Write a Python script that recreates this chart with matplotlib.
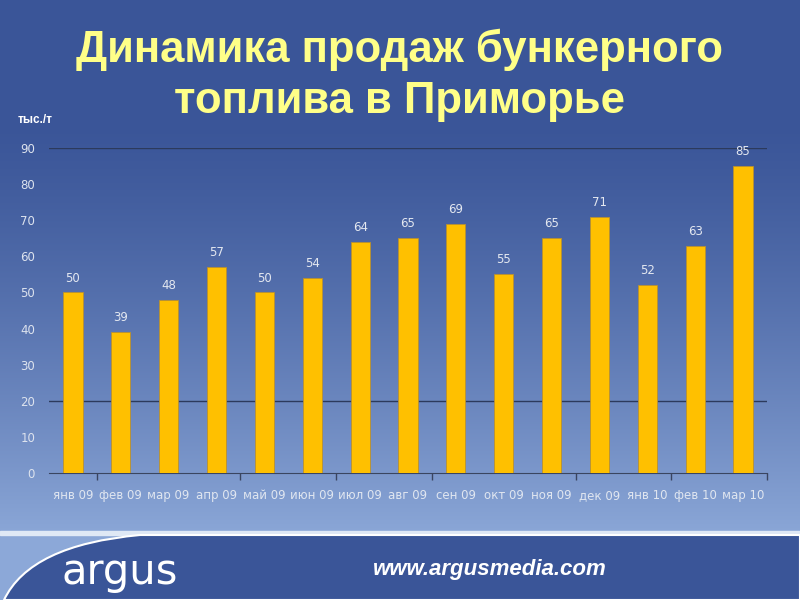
import numpy as np
import matplotlib
matplotlib.use('Agg')
import matplotlib.pyplot as plt
from matplotlib.path import Path
from matplotlib.patches import PathPatch, Rectangle
from matplotlib.transforms import blended_transform_factory

# data
months = ['янв 09', 'фев 09', 'мар 09', 'апр 09', 'май 09', 'июн 09', 'июл 09', 'авг 09',
          'сен 09', 'окт 09', 'ноя 09', 'дек 09', 'янв 10', 'фев 10', 'мар 10']
sales = [50, 39, 48, 57, 50, 54, 64, 65, 69, 55, 65, 71, 52, 63, 85]
yticks = [0, 10, 20, 30, 40, 50, 60, 70, 80, 90]
tick_bounds = [1, 4, 6, 8, 11, 13, 15]   # category boundaries carrying a tick mark

W, H = 800, 600
fig = plt.figure(figsize=(8, 6), dpi=100)

# background gradient
bg = fig.add_axes([0, 0, 1, 1])
bg.set_axis_off()
top = np.array([0x3a, 0x55, 0x98]) / 255
bot = np.array([0x8c, 0xa8, 0xd8]) / 255
t = np.linspace(0, 1, 600)
t = np.clip((t - 0.2) / 0.7, 0, 1) ** 1.3
grad = top[None, :] * (1 - t[:, None]) + bot[None, :] * t[:, None]
bg.imshow(grad[:, None, :], aspect='auto', extent=[0, W, H, 0])
bg.set_xlim(0, W)
bg.set_ylim(H, 0)

# footer band
bg.add_patch(Rectangle((0, 531), W, 4, color='#dfe8f5', zorder=2))
verts = [(4, 600), (30, 545), (140, 535), (W, 535), (W, 600), (4, 600)]
codes = [Path.MOVETO, Path.CURVE3, Path.CURVE3, Path.LINETO, Path.LINETO, Path.CLOSEPOLY]
bg.add_patch(PathPatch(Path(verts, codes), facecolor='#3a5598', edgecolor='white', lw=1.5, zorder=3))
bg.text(62, 572, 'argus', color='white', fontsize=30, family='DejaVu Sans',
        va='center', ha='left', zorder=4)
bg.text(490, 569, 'www.argusmedia.com', color='white', fontsize=16, fontweight='bold',
        style='italic', family='Liberation Sans', va='center', ha='center', zorder=4)

# title
bg.text(400, 50, 'Динамика продаж бункерного', color='#ffff88', fontsize=31.5,
        fontweight='bold', family='Liberation Sans', ha='center', va='center')
bg.text(400, 101, 'топлива в Приморье', color='#ffff88', fontsize=31.5,
        fontweight='bold', family='Liberation Sans', ha='center', va='center')
bg.text(18, 120, 'тыс./т', color='white', fontsize=8.5, fontweight='bold',
        family='Liberation Sans', ha='left', va='center')

# chart
ax = fig.add_axes([49 / W, 1 - 473 / H, (767 - 49) / W, (473 - 148) / H])
ax.patch.set_alpha(0)
x = np.arange(len(sales))
bars = ax.bar(x, sales, width=0.4, color='#ffc000', edgecolor='#b89030', linewidth=0.6, zorder=3)
for xi, v in zip(x, sales):
    ax.text(xi, v + 2.2, str(v), ha='center', va='bottom', color='#e4e8f0', fontsize=8.5)

ax.set_xlim(-0.5, len(sales) - 0.5)
ax.set_ylim(0, 90)
ax.set_yticks(yticks)
ax.set_yticklabels([str(v) for v in yticks], color='#dde3ee', fontsize=8.5)
ax.tick_params(axis='y', length=0, pad=10)
ax.set_xticks([])
trans = blended_transform_factory(ax.transData, ax.transAxes)
for xi, m in zip(x, months):
    ax.text(xi, -0.08, m, transform=trans, ha='center', va='baseline',
            color='#e0e6f0', fontsize=8.5)
ax.set_xticks([b - 0.5 for b in tick_bounds], minor=True)
ax.tick_params(axis='x', which='minor', length=5, color='#3a4560', width=1)
for s in ['top', 'right', 'left']:
    ax.spines[s].set_visible(False)
ax.spines['bottom'].set_color('#3a4560')
for g in [20, 90]:
    ax.axhline(g, color='#2c3a5c', lw=1, zorder=1)

fig.savefig('out.png', dpi=100)
